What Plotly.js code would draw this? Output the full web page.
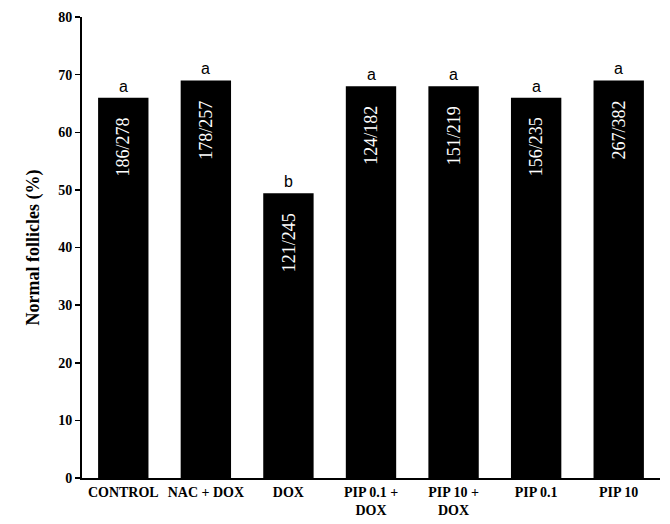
<!DOCTYPE html>
<html>
<head>
<meta charset="utf-8">
<script src="https://cdn.plot.ly/plotly-3.0.1.min.js"></script>
<style>
  body { margin: 0; background: #fff; }
  #chart { width: 670px; height: 524px; }
</style>
</head>
<body>
<div id="chart"></div>
<script>
// groups and read-off values
var groups = ["CONTROL", "NAC + DOX", "DOX", "PIP 0.1 + DOX", "PIP 10 + DOX", "PIP 0.1", "PIP 10"];
var tickLabels = ["CONTROL", "NAC + DOX", "DOX", "PIP 0.1 +<br>DOX", "PIP 10 +<br>DOX", "PIP 0.1", "PIP 10"];
var normalPct = [66.0, 69.0, 49.4, 68.0, 68.0, 66.0, 69.0];
var counts = ["186/278", "178/257", "121/245", "124/182", "151/219", "156/235", "267/382"];
var letters = ["a", "a", "b", "a", "a", "a", "a"];

var serif = "Liberation Serif, Times New Roman, serif";

var trace = {
    x: groups,
    y: normalPct,
    type: "bar",
    marker: {color: "#000000", line: {color: "#000000", width: 0}},
    hoverinfo: "none"
};

var annotations = [];
for (let i = 0; i < groups.length; i++) {
    // letter above each bar
    annotations.push({
        x: groups[i], y: normalPct[i], xref: "x", yref: "y",
        text: letters[i], showarrow: false,
        yanchor: "bottom", yshift: 1,
        font: {family: "Liberation Sans, Arial, sans-serif", size: 16, color: "#000"}
    });
    // count inside the bar, rotated
    annotations.push({
        x: groups[i], y: normalPct[i], xref: "x", yref: "y",
        text: counts[i], showarrow: false, textangle: -90,
        yanchor: "top", yshift: -18,
        font: {family: serif, size: 18, color: "#ffffff"}
    });
}

var layout = {
    width: 670,
    height: 524,
    margin: {l: 82, r: 10, t: 17, b: 46},
    paper_bgcolor: "#ffffff",
    plot_bgcolor: "#ffffff",
    showlegend: false,
    bargap: 0.39,
    xaxis: {
        tickvals: groups,
        ticktext: tickLabels,
        showline: true, linecolor: "#000", linewidth: 2,
        ticks: "", showgrid: false, zeroline: false,
        tickfont: {family: serif, size: 14, color: "#000", weight: "bold"}
    },
    yaxis: {
        range: [0, 80],
        dtick: 10,
        showline: true, linecolor: "#000", linewidth: 2,
        ticks: "outside", ticklen: 5, tickwidth: 1.5, tickcolor: "#000",
        showgrid: false, zeroline: false,
        tickfont: {family: serif, size: 14, color: "#000", weight: "bold"},
        title: {text: "Normal follicles (%)", standoff: 14,
                font: {family: serif, size: 18, color: "#000", weight: "bold"}}
    },
    annotations: annotations
};

Plotly.newPlot("chart", [trace], layout, {displayModeBar: false, staticPlot: true});
</script>
</body>
</html>
